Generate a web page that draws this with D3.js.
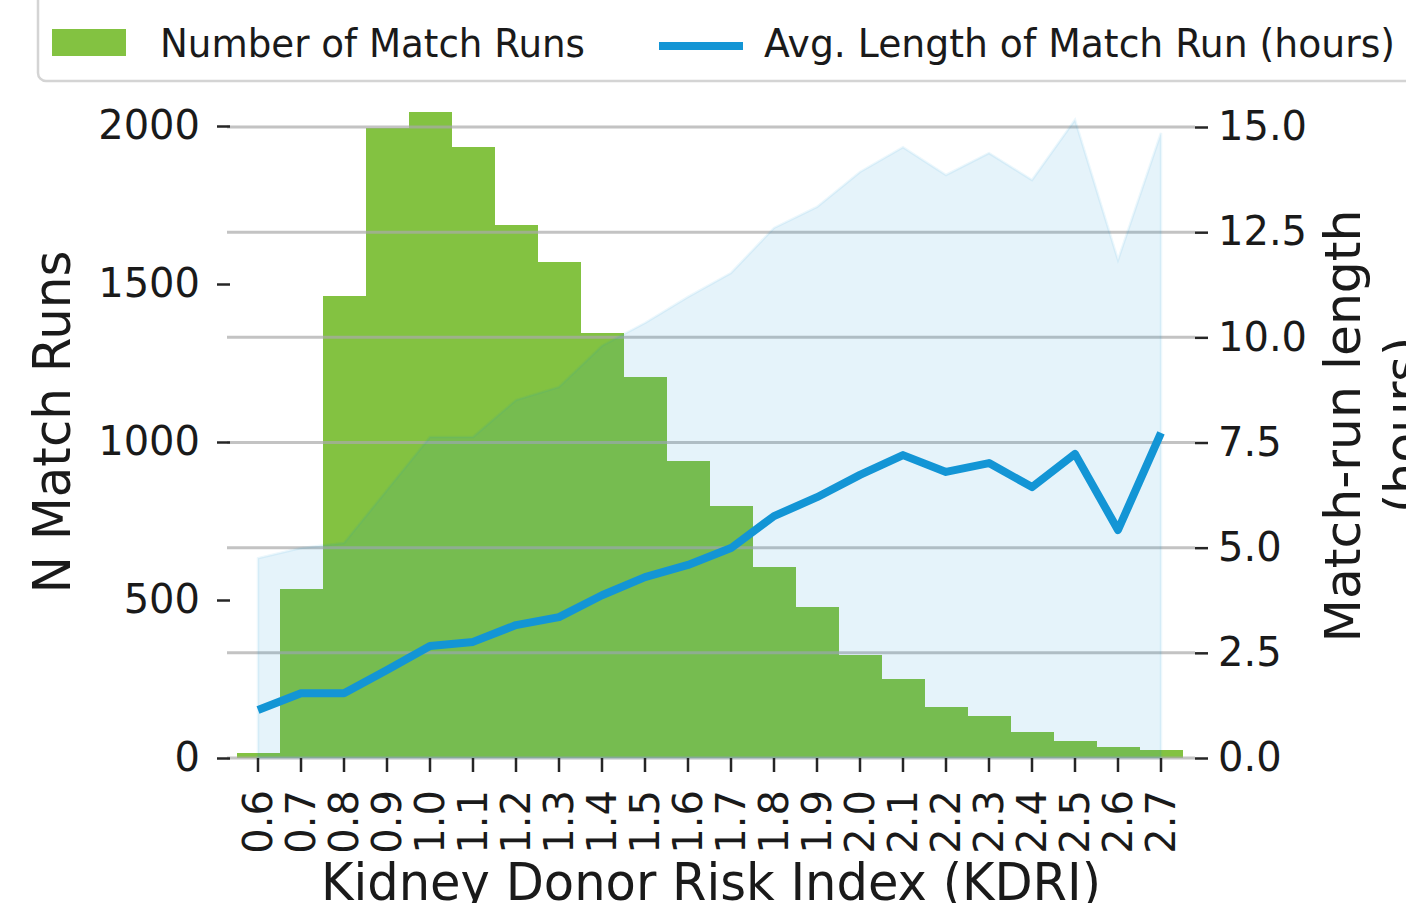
<!DOCTYPE html>
<html>
<head>
<meta charset="utf-8">
<script src="https://cdn.jsdelivr.net/npm/d3@7"></script>
<style>
  html, body { margin: 0; padding: 0; background: #fff; }
  svg { display: block; font-family: 'DejaVu Sans', sans-serif; }
  .tick text { fill: #1a1a1a; }
  .tick line { stroke: #262626; stroke-width: 2.5; }
</style>
</head>
<body>
<div id="chart"></div>
<script>
const kdri = ['0.6', '0.7', '0.8', '0.9', '1.0', '1.1', '1.2', '1.3', '1.4', '1.5', '1.6',
  '1.7', '1.8', '1.9', '2.0', '2.1', '2.2', '2.3', '2.4', '2.5', '2.6', '2.7'];
const matchRuns = [16, 535, 1462, 1994, 2044, 1934, 1687, 1570, 1345, 1206, 940,
  797, 604, 478, 326, 250, 161, 133, 82, 54, 35, 25];
const avgHours = [1.14, 1.54, 1.54, 2.09, 2.66, 2.76, 3.16, 3.35, 3.87, 4.30, 4.59,
  4.99, 5.75, 6.20, 6.73, 7.20, 6.80, 7.01, 6.44, 7.23, 5.42, 7.73];
const upperHours = [4.75, 4.99, 5.11, 6.37, 7.63, 7.63, 8.51, 8.82, 9.8, 10.34, 10.96,
  11.53, 12.6, 13.1, 13.93, 14.52, 13.86, 14.38, 13.74, 15.17, 11.84, 14.86];
const leftTicks = [0, 500, 1000, 1500, 2000];
const rightTicks = [0, 2.5, 5, 7.5, 10, 12.5, 15];

const svgWidth = 1406, svgHeight = 903;
const plot = { left: 227, right: 1195, bottom: 758 };
const green = '#83c241', blue = '#1395d5';

const svg = d3.select('#chart')
  .append('svg')
  .attr('width', svgWidth)
  .attr('height', svgHeight);

const data = kdri.map((k, i) => ({
  kdri: k,
  runs: matchRuns[i],
  hours: avgHours[i],
  upper: upperHours[i]
}));

const xScale = d3.scaleBand()
  .domain(kdri)
  .range([236.5, 1182.5])
  .padding(0);
const yLeft = d3.scaleLinear().domain([0, 2000]).range([plot.bottom, 126]);
const yRight = d3.scaleLinear().domain([0, 15]).range([plot.bottom, 127]);
const cx = d => xScale(d.kdri) + xScale.bandwidth() / 2;

// bars (number of match runs)
svg.append('g')
  .attr('shape-rendering', 'crispEdges')
  .selectAll('rect')
  .data(data)
  .enter()
  .append('rect')
  .attr('x', d => xScale(d.kdri))
  .attr('y', d => yLeft(d.runs))
  .attr('width', xScale.bandwidth() + 0.5)
  .attr('height', d => yLeft(0) - yLeft(d.runs))
  .attr('fill', green);

// grid from the right axis, drawn over the bars
svg.append('g')
  .selectAll('line')
  .data(rightTicks)
  .enter()
  .append('line')
  .attr('x1', plot.left)
  .attr('x2', plot.right)
  .attr('y1', d => yRight(d))
  .attr('y2', d => yRight(d))
  .attr('stroke', '#a9a9a9')
  .attr('stroke-opacity', 0.7)
  .attr('stroke-width', 3);

// shaded band
const band = d3.area()
  .x(cx)
  .y0(yRight(0))
  .y1(d => yRight(d.upper));
svg.append('path')
  .datum(data)
  .attr('d', band)
  .attr('fill', blue)
  .attr('fill-opacity', 0.11)
  .attr('stroke', blue)
  .attr('stroke-opacity', 0.08)
  .attr('stroke-width', 2.5);

// average length line
const line = d3.line()
  .x(cx)
  .y(d => yRight(d.hours));
svg.append('path')
  .datum(data)
  .attr('d', line)
  .attr('fill', 'none')
  .attr('stroke', blue)
  .attr('stroke-width', 8)
  .attr('stroke-linejoin', 'round');

// axes
const leftAxis = svg.append('g')
  .attr('transform', 'translate(230,0)')
  .call(d3.axisLeft(yLeft).tickValues(leftTicks).tickSize(13).tickPadding(17).tickFormat(d3.format('d')));
const rightAxis = svg.append('g')
  .attr('transform', `translate(${plot.right},0)`)
  .call(d3.axisRight(yRight).tickValues(rightTicks).tickSize(13).tickPadding(10).tickFormat(d3.format('.1f')));
const bottomAxis = svg.append('g')
  .attr('transform', `translate(0,${plot.bottom})`)
  .call(d3.axisBottom(xScale).tickSize(14));

[leftAxis, rightAxis, bottomAxis].forEach(a => {
  a.select('.domain').remove();
  a.selectAll('text').attr('font-size', 40).attr('font-family', 'DejaVu Sans');
});
bottomAxis.selectAll('text')
  .attr('transform', 'rotate(-90)')
  .attr('text-anchor', 'end')
  .attr('x', -32)
  .attr('y', 0)
  .attr('dy', '0.35em');

// axis titles
function label(x, y, rot, txt, len, size) {
  svg.append('text')
    .attr('transform', `translate(${x},${y}) rotate(${rot})`)
    .attr('text-anchor', 'middle')
    .attr('font-size', size)
    .attr('fill', '#1a1a1a')
    .attr('textLength', len)
    .attr('lengthAdjust', 'spacingAndGlyphs')
    .text(txt);
}
label(711, 900, 0, 'Kidney Donor Risk Index (KDRI)', 780, 52);
label(70, 422, -90, 'N Match Runs', 343, 52);
label(1360, 426, -90, 'Match-run length', 433, 50);
label(1420, 425, -90, '(hours)', 176, 50);

// legend
const legend = svg.append('g');
legend.append('rect')
  .attr('x', 38)
  .attr('y', -14)
  .attr('width', 1420)
  .attr('height', 95)
  .attr('rx', 8)
  .attr('fill', '#fff')
  .attr('stroke', '#d4d4d4')
  .attr('stroke-width', 2.5);
legend.append('rect')
  .attr('x', 52).attr('y', 29)
  .attr('width', 74).attr('height', 27)
  .attr('fill', green);
legend.append('line')
  .attr('x1', 659).attr('x2', 743)
  .attr('y1', 46).attr('y2', 46)
  .attr('stroke', blue)
  .attr('stroke-width', 8);
[
  { x: 160, txt: 'Number of Match Runs', len: 425 },
  { x: 764, txt: 'Avg. Length of Match Run (hours)', len: 631 }
].forEach(d => {
  legend.append('text')
    .attr('x', d.x)
    .attr('y', 57)
    .attr('font-size', 39)
    .attr('fill', '#1a1a1a')
    .attr('textLength', d.len)
    .attr('lengthAdjust', 'spacingAndGlyphs')
    .text(d.txt);
});
</script>
</body>
</html>
